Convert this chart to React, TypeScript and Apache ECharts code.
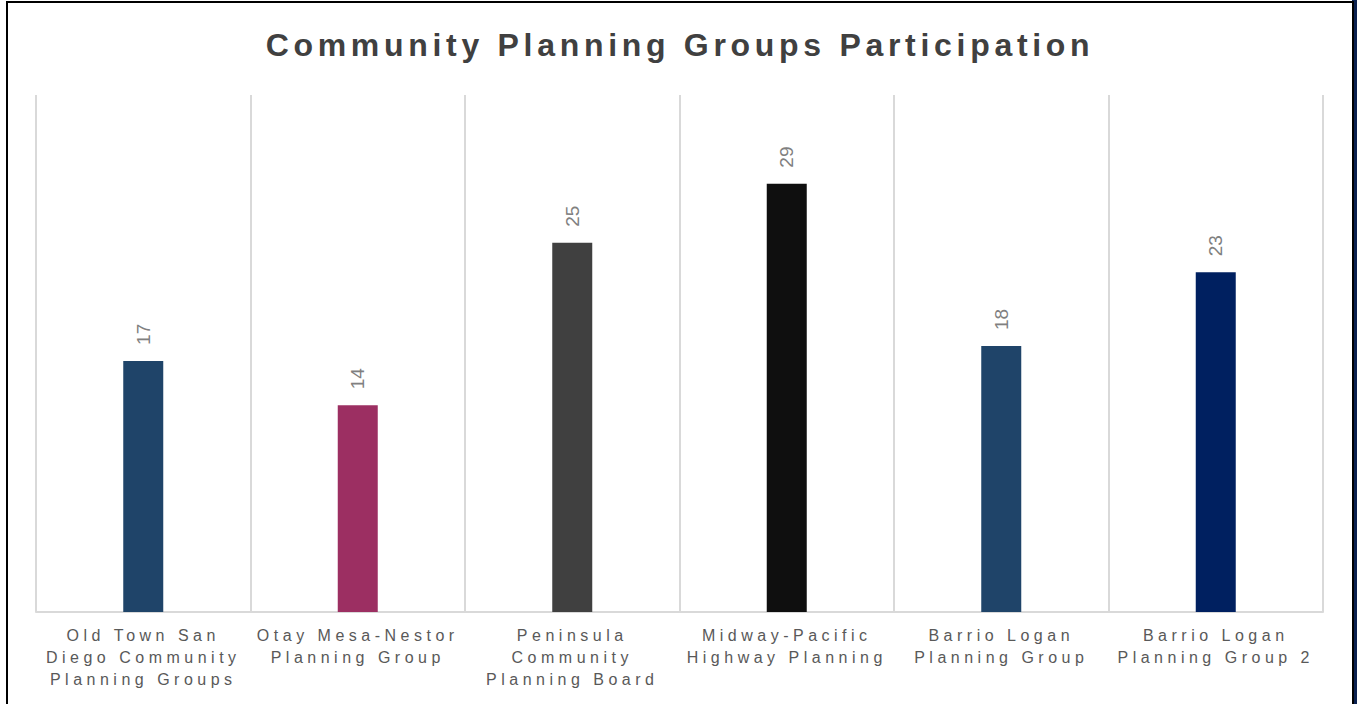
import React, { useEffect, useRef } from "react";
import * as echarts from "echarts";

const titleText = "Community Planning Groups Participation";
const categories = [
  "Old Town San Diego Community Planning Groups",
  "Otay Mesa-Nestor Planning Group",
  "Peninsula Community Planning Board",
  "Midway-Pacific Highway Planning",
  "Barrio Logan Planning Group",
  "Barrio Logan Planning Group 2",
];
const values = [17, 14, 25, 29, 18, 23];
const barColors = ["#1F4469", "#9C2F62", "#404040", "#0F0F0F", "#1F4469", "#002060"];
const yMax = 35;

function wrap(s: string, maxChars: number): string {
  const words = s.split(" ");
  const lines: string[] = [];
  let cur = "";
  for (const w of words) {
    if (!cur) cur = w;
    else if ((cur + " " + w).length <= maxChars) cur += " " + w;
    else {
      lines.push(cur);
      cur = w;
    }
  }
  if (cur) lines.push(cur);
  return lines.join("\n");
}

export default function App() {
  const ref = useRef<HTMLDivElement>(null);
  useEffect(() => {
    if (!ref.current) return;
    const chart = echarts.init(ref.current, undefined, { renderer: "svg" });
    const font = "'Liberation Sans', Arial, sans-serif";
    chart.setOption({
      animation: false,
      title: {
        text: titleText,
        left: "center",
        top: 21,
        textStyle: { fontFamily: font, fontSize: 32, fontWeight: "bold", color: "#404040" },
      },
      grid: { left: 28, right: 29, top: 92, bottom: 111, containLabel: false },
      xAxis: {
        type: "category",
        data: categories,
        boundaryGap: true,
        axisLine: { lineStyle: { color: "#d9d9d9", width: 2 } },
        axisTick: { show: false },
        splitLine: { show: true, lineStyle: { color: "#d9d9d9", width: 2 } },
        axisLabel: {
          interval: 0,
          margin: 12,
          fontFamily: font,
          fontSize: 16,
          lineHeight: 22,
          color: "#595959",
          formatter: (v: string) => wrap(v, 16),
        },
      },
      yAxis: {
        type: "value",
        min: 0,
        max: yMax,
        show: false,
        splitLine: { show: false },
      },
      series: [
        {
          type: "bar",
          barWidth: 40,
          data: values.map((v, i) => ({ value: v, itemStyle: { color: barColors[i] } })),
          label: {
            show: true,
            position: "top",
            rotate: 90,
            align: "left",
            verticalAlign: "middle",
            distance: 16,
            fontFamily: font,
            fontSize: 19,
            color: "#808080",
          },
        },
      ],
    });
    return () => chart.dispose();
  }, []);

  return (
    <>
      <style>{`
        #cpg-chart text[style*="16px"] { letter-spacing: 4.5px; }
        #cpg-chart text[style*="32px"] { letter-spacing: 4.7px; }
      `}</style>
      <div
        style={{
          position: "absolute",
          left: 1352,
          top: 0,
          width: 5,
          height: 704,
          background: "#0b2150",
        }}
      />
      <div
        style={{
          position: "absolute",
          left: 6,
          top: 1,
          width: 1344,
          height: 720,
          border: "2px solid #000",
          background: "#fff",
        }}
      >
        <div id="cpg-chart" ref={ref} style={{ width: 1344, height: 720 }} />
      </div>
    </>
  );
}
